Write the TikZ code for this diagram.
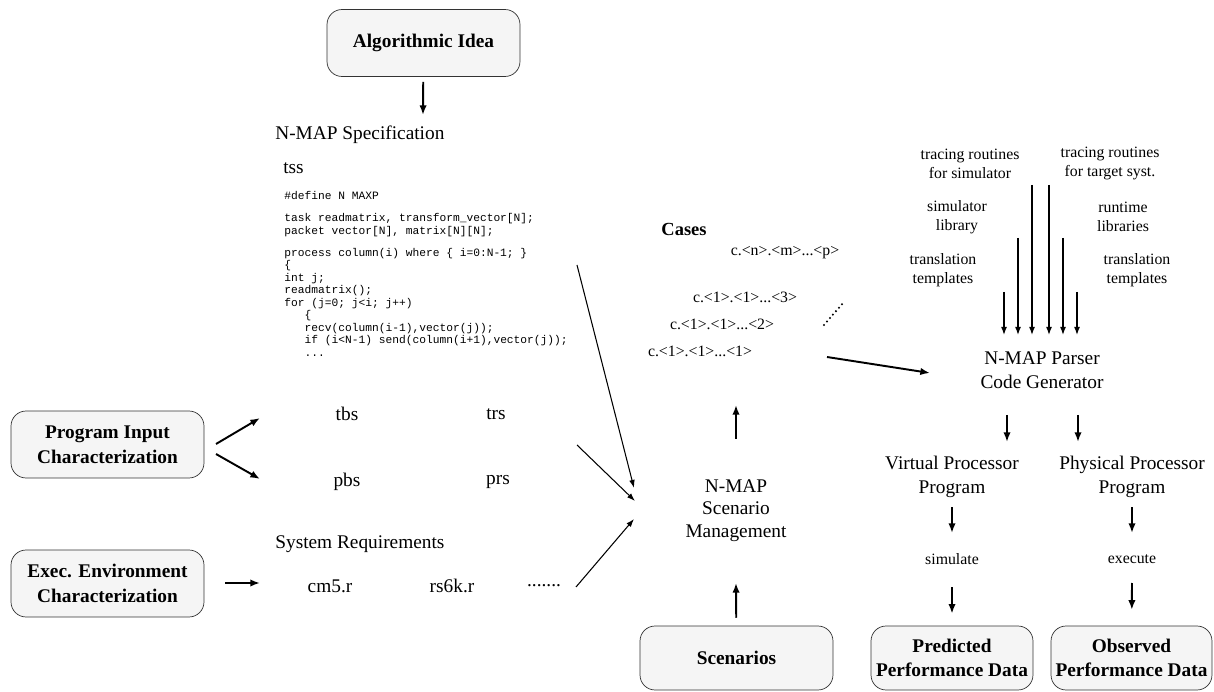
\documentclass[tikz,border=0pt]{standalone}
\usepackage{fontspec}
\setmainfont{Liberation Serif}
\setmonofont{Liberation Mono}
\usetikzlibrary{arrows.meta}

\begin{document}
\begin{tikzpicture}[x=0.02cm, y=-0.02cm,
		>={Latex[length=5.5pt, width=4.2pt]},
		block/.style={draw=black!80, fill=black!4, rounded corners=0.3cm, minimum width=3.86cm, minimum height=1.34cm, align=center, inner sep=0, font=\fontsize{11}{14}\selectfont\bfseries},
		txt/.style={align=center, inner sep=0, font=\fontsize{11}{13.6}\selectfont},
		lib/.style={align=center, inner sep=0, font=\fontsize{9}{10.8}\selectfont},
		case/.style={inner sep=0, font=\fontsize{9}{11}\selectfont},
		code/.style={align=left, inner sep=0, font=\fontsize{6.4}{7.1}\selectfont\ttfamily},
		flow/.style={->, line width=1.1pt},
		feed/.style={>={Latex[length=4.6pt, width=3.2pt]}, ->, line width=0.6pt},
		tool/.style={>={Latex[length=4.6pt, width=3.4pt]}, ->, line width=0.7pt}]
	\useasboundingbox (0,0) rectangle (1214,692);

	% boxes
	\node [block] (algo) at (423.5,43) {Algorithmic Idea};
	\node [block] (prog) at (107.5,444.5) {Program Input\\Characterization};
	\node [block] (exec) at (107.5,583.5) {Exec. Environment\\Characterization};
	\node [block, minimum height=1.28cm] (scenarios) at (736.5,658) {Scenarios};
	\node [block, minimum width=3.24cm, minimum height=1.28cm] (pred) at (952,658) {Predicted\\Performance Data};
	\node [block, minimum width=3.22cm, minimum height=1.28cm] (obs) at (1131.5,658) {Observed\\Performance Data};

	% specification
	\node [txt, anchor=west] (spec) at (275,135) {N-MAP Specification};
	\node [txt, anchor=west] (tss) at (283,168) {tss};
	\node [code, anchor=north west] (code) at (284,191) {\#define N MAXP\\[5.5pt]
task readmatrix, transform\_vector[N];\\
packet vector[N], matrix[N][N];\\[5.5pt]
process column(i) where \{ i=0:N-1; \}\\
\{\\
int j;\\
readmatrix();\\
for (j=0; j<i; j++)\\
\phantom{xxx}\{\\
\phantom{xxx}recv(column(i-1),vector(j));\\
\phantom{xxx}if (i<N-1) send(column(i+1),vector(j));\\
\phantom{xxx}...};

	\node [txt] (tbs) at (347,414) {tbs};
	\node [txt] (trs) at (496,414) {trs};
	\node [txt] (pbs) at (347,482) {pbs};
	\node [txt] (prs) at (498,482) {prs};
	\node [txt, anchor=west] (sysreq) at (275,544) {System Requirements};
	\node [txt] (cm5) at (330,586) {cm5.r};
	\node [txt] (rs6k) at (452,586) {rs6k.r};
	\node [txt] (more) at (544,586) {.......};

	% scenarios and cases
	\node [txt, font=\fontsize{11}{12.8}\selectfont] (mgmt) at (736,510.5) {N-MAP\\Scenario\\Management};
	\node [txt, font=\fontsize{10.5}{12}\selectfont\bfseries] (cases) at (684,229) {Cases};
	\node [case] (cn) at (785,253) {c.<n>.<m>...<p>};
	\node [case] (c3) at (745,297) {c.<1>.<1>...<3>};
	\node [case] (c2) at (722,324) {c.<1>.<1>...<2>};
	\node [case] (c1) at (700,351) {c.<1>.<1>...<1>};
	\coordinate (dotlo) at (824,325);
	\coordinate (dothi) at (843,303);
	\draw [line width=1.3pt, line cap=round, dash pattern=on 0pt off 2.6pt] (dotlo) -- (dothi);

	% parser and its inputs
	\node [txt] (parser) at (1042,370) {N-MAP Parser\\Code Generator};
	\node [lib] (trsim) at (970,163.5) {tracing routines\\for simulator};
	\node [lib] (trtgt) at (1110,163.5) {tracing routines\\for target syst.};
	\node [lib] (simlib) at (957,217) {simulator\\library};
	\node [lib] (rtlib) at (1123,217) {runtime\\libraries};
	\node [lib] (tmpl1) at (943,270) {translation\\templates};
	\node [lib] (tmpl2) at (1137,270) {translation\\templates};

	% programs and runs
	\node [txt] (vpp) at (952,477) {Virtual Processor\\Program};
	\node [txt] (ppp) at (1132,477) {Physical Processor\\Program};
	\node [lib] (sim) at (952,559) {simulate};
	\node [lib] (exe) at (1132,559) {execute};

	% arrow ends
	\coordinate (specin) at (423,115);
	\coordinate (progup) at (216,444);
	\coordinate (progdn) at (216,454);
	\coordinate (tbsin) at (260,418);
	\coordinate (pbsin) at (260,479);
	\coordinate (execout) at (225,583);
	\coordinate (cm5in) at (260,583);
	\coordinate (codeout) at (577,265);
	\coordinate (trsout) at (577,445);
	\coordinate (sysout) at (576,587);
	\coordinate (mgmtin1) at (634,488);
	\coordinate (mgmtin2) at (635,501);
	\coordinate (mgmtin3) at (634,519);
	\coordinate (mgmttop) at (736,439);
	\coordinate (casesin) at (736,405);
	\coordinate (mgmtbot) at (736,583);
	\coordinate (casesout) at (827,357);
	\coordinate (parserin) at (930,373);
	\coordinate (parsertop) at (1040,335);
	\coordinate (cgl) at (1007,415);
	\coordinate (cgr) at (1078,415);
	\coordinate (vppin) at (1007,442);
	\coordinate (pppin) at (1078,442);
	\coordinate (vppout) at (952,507);
	\coordinate (simin) at (952,533);
	\coordinate (simout) at (952,587);
	\coordinate (pppout) at (1132,507);
	\coordinate (exein) at (1132,533);
	\coordinate (exeout) at (1132,583);
	\foreach \n/\x/\y in {1/1004/292, 2/1018/238, 3/1032/185, 4/1049/185, 5/1063/238, 6/1077/292}
		\coordinate (src\n) at (\x,\y);

	\path[flow] (algo) edge [shorten <=2.8pt] (specin);
	\path[flow] (progup) edge (tbsin);
	\path[flow] (progdn) edge (pbsin);
	\path[flow] (execout) edge (cm5in);
	\path[feed] (codeout) edge (mgmtin1);
	\path[feed] (trsout) edge (mgmtin2);
	\path[feed] (sysout) edge (mgmtin3);
	\path[flow] (mgmttop) edge (casesin);
	\path[flow] (scenarios) edge [shorten <=4.5pt] (mgmtbot);
	\path[flow] (casesout) edge (parserin);
	\foreach \n in {1,...,6}
		\path[tool] (src\n) edge (src\n |- parsertop);
	\path[flow] (cgl) edge (vppin);
	\path[flow] (cgr) edge (pppin);
	\path[flow] (vppout) edge (simin);
	\path[flow] (pppout) edge (exein);
	\path[flow] (simout) edge [shorten >=6.8pt] (pred);
	\path[flow] (exeout) edge [shorten >=9pt] (obs);
\end{tikzpicture}
\end{document}
